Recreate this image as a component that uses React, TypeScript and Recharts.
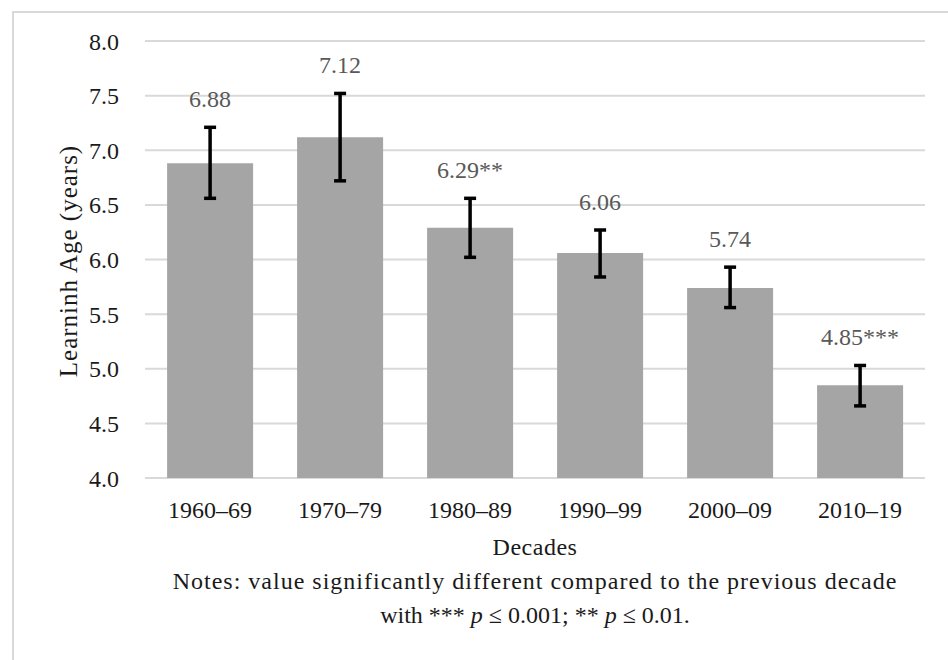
import React from 'react';
import {
  ComposedChart,
  Bar,
  Line,
  XAxis,
  YAxis,
  CartesianGrid,
  ErrorBar,
  LabelList,
} from 'recharts';

const decades = ['1960–69', '1970–79', '1980–89', '1990–99', '2000–09', '2010–19'];
const meanAge = [6.88, 7.12, 6.29, 6.06, 5.74, 4.85];
const errLower = [0.32, 0.4, 0.27, 0.22, 0.18, 0.19];
const errUpper = [0.33, 0.4, 0.27, 0.21, 0.19, 0.18];
const significance = ['', '', '**', '', '', '***'];
const yTicks = [4.0, 4.5, 5.0, 5.5, 6.0, 6.5, 7.0, 7.5, 8.0];

const data = decades.map((d, i) => ({
  decade: d,
  mean: meanAge[i],
  err: [errLower[i], errUpper[i]],
  upper: meanAge[i] + errUpper[i],
  label: meanAge[i].toFixed(2) + significance[i],
}));

const FONT = '"Liberation Serif", "Times New Roman", serif';

export default function App() {
  return (
    <div style={{ position: 'absolute', left: 0, top: 0, width: 948, height: 660, background: '#fff', fontFamily: FONT }}>
      <div
        style={{
          position: 'absolute',
          left: 12,
          top: 11,
          width: 948 - 12,
          height: 660 - 11,
          borderTop: '2px solid #d9d9d9',
          borderLeft: '2px solid #d9d9d9',
        }}
      />
      <ComposedChart
        width={948}
        height={660}
        data={data}
        margin={{ top: 41, right: 23, bottom: 142, left: 75 }}
        barCategoryGap="17%"
        style={{ position: 'absolute', left: 0, top: 0 }}
      >
        <CartesianGrid vertical={false} stroke="#d9d9d9" strokeWidth={2} />
        <XAxis
          dataKey="decade"
          axisLine={false}
          tickLine={false}
          tickMargin={17}
          height={40}
          tick={{ fill: '#1a1a1a', fontSize: 24, fontFamily: FONT }}
        />
        <YAxis
          domain={[4, 8]}
          ticks={yTicks}
          width={70}
          axisLine={false}
          tickLine={false}
          tickMargin={20}
          tickFormatter={(v: number) => v.toFixed(1)}
          tick={{ fill: '#1a1a1a', fontSize: 24, fontFamily: FONT }}
          label={{
            content: () => (
              <text
                x={68}
                y={261}
                transform="rotate(-90 68 261)"
                textAnchor="middle"
                dominantBaseline="central"
                fill="#1a1a1a"
                fontSize={25}
                letterSpacing={1}
                fontFamily={FONT}
              >
                Learninh Age (years)
              </text>
            ),
          }}
        />
        <Bar dataKey="mean" fill="#a5a5a5" isAnimationActive={false}>
          <ErrorBar dataKey="err" stroke="#000" strokeWidth={3.5} width={6} direction="y" />
        </Bar>
        <Line
          dataKey="upper"
          stroke="none"
          dot={false}
          activeDot={false}
          legendType="none"
          isAnimationActive={false}
        >
          <LabelList
            dataKey="label"
            position="top"
            offset={20}
            fill="#595959"
            fontSize={24}
            fontFamily={FONT}
          />
        </Line>
      </ComposedChart>
      <div
        style={{
          position: 'absolute',
          left: 135,
          width: 800,
          top: 530,
          textAlign: 'center',
          fontSize: 24,
          lineHeight: '34px',
          color: '#1a1a1a',
        }}
      >
        <div style={{ letterSpacing: 0.5 }}>Decades</div>
        <div style={{ letterSpacing: 1 }}>Notes: value significantly different compared to the previous decade</div>
        <div style={{ letterSpacing: 0 }}>
          with *** <i>p</i> ≤ 0.001; ** <i>p</i> ≤ 0.01.
        </div>
      </div>
    </div>
  );
}
